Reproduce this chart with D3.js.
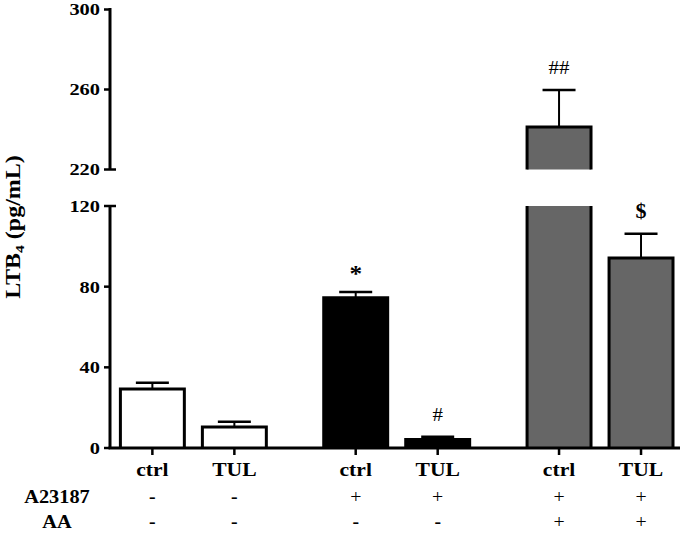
<!DOCTYPE html>
<html><head><meta charset="utf-8">
<script src="https://cdn.jsdelivr.net/npm/d3@7"></script>
<style>body{margin:0;background:#fff}svg{display:block}</style>
</head><body>
<script>
const groups = ["none", "A23187", "A23187+AA"];
const treatments = ["ctrl", "TUL"];
const categories = ["ctrl", "TUL", "ctrl", "TUL", "ctrl", "TUL"];
const means = [29.3, 10.4, 74.5, 4.2, 241.3, 94.2];
const sems = [3.1, 2.6, 2.9, 1.4, 18.4, 12.0];
const a23187Row = ["-", "-", "+", "+", "+", "+"];
const aaRow = ["-", "-", "-", "-", "+", "+"];
const sigMarks = ["", "", "*", "#", "##", "$"];
const lowerTicks = [0, 40, 80, 120];
const upperTicks = [220, 260, 300];
const lowerDomain = [0, 120];
const upperDomain = [220, 300];

const W = 680, H = 533;
const svg = d3.select("body").append("svg").attr("width", W).attr("height", H);
const serif = "'Liberation Serif','Times New Roman',serif";
const axX = 110;
const yLow = d3.scaleLinear().domain(lowerDomain).range([448, 206]);
const yUp = d3.scaleLinear().domain(upperDomain).range([169.5, 9.5]);

const x0 = d3.scaleBand().domain(groups).range([91.7, 701.7]).padding(0);
const x1 = d3.scaleBand().domain(treatments).range([0, x0.bandwidth()]).paddingInner(0.22).paddingOuter(0.35);
const data = means.map((m, i) => ({
  i, m, s: sems[i], g: groups[Math.floor(i / 2)], t: categories[i]
}));
const xL = d => x0(d.g) + x1(d.t);
const xC = d => xL(d) + x1.bandwidth() / 2;
const bw = x1.bandwidth();
const fillOf = d => d.g === "none" ? "#ffffff" : d.g === "A23187" ? "#000000" : "#666666";

function txt(g, x, y, str, o) {
  o = Object.assign({size: 17, bold: true, sx: 1.2, anchor: "middle", dy: null}, o || {});
  const t = g.append("text").attr("transform", `translate(${x},${y}) scale(${o.sx},1)`)
    .attr("text-anchor", o.anchor).attr("font-family", serif).attr("font-size", o.size)
    .attr("font-weight", o.bold ? "bold" : "normal").text(str);
  if (o.dy) t.attr("dy", o.dy);
  return t;
}

// bars
const bars = svg.append("g");
data.forEach(d => {
  const l = xL(d), r = l + bw;
  if (d.m <= lowerDomain[1]) {
    bars.append("rect").attr("x", l).attr("y", yLow(d.m)).attr("width", bw)
      .attr("height", yLow(0) - yLow(d.m)).attr("fill", fillOf(d));
    bars.append("path").attr("d", `M${l},${yLow(0)}V${yLow(d.m)}H${r}V${yLow(0)}`)
      .attr("fill", "none").attr("stroke", "#000").attr("stroke-width", 3);
  } else {
    bars.append("rect").attr("x", l).attr("y", yLow(lowerDomain[1])).attr("width", bw)
      .attr("height", yLow(0) - yLow(lowerDomain[1])).attr("fill", fillOf(d));
    bars.append("path").attr("d", `M${l},${yLow(0)}V${yLow(lowerDomain[1])}M${r},${yLow(lowerDomain[1])}V${yLow(0)}`)
      .attr("fill", "none").attr("stroke", "#000").attr("stroke-width", 3);
    bars.append("rect").attr("x", l).attr("y", yUp(d.m)).attr("width", bw)
      .attr("height", yUp(upperDomain[0]) - yUp(d.m)).attr("fill", fillOf(d));
    bars.append("path").attr("d", `M${l},${yUp(upperDomain[0])}V${yUp(d.m)}H${r}V${yUp(upperDomain[0])}`)
      .attr("fill", "none").attr("stroke", "#000").attr("stroke-width", 3);
  }
});

// error bars + significance marks
const yAny = v => v > lowerDomain[1] ? yUp(v) : yLow(v);
data.forEach(d => {
  const cx = xC(d), top = yAny(d.m + d.s), base = yAny(d.m);
  bars.append("line").attr("x1", cx).attr("x2", cx).attr("y1", base).attr("y2", top)
    .attr("stroke", "#000").attr("stroke-width", 2);
  bars.append("line").attr("x1", cx - 16.5).attr("x2", cx + 16.5).attr("y1", top).attr("y2", top)
    .attr("stroke", "#000").attr("stroke-width", 2.5);
  const mk = sigMarks[d.i];
  if (mk === "*") txt(bars, cx, top - 11, mk, {size: 23, bold: true, sx: 1.1});
  else if (mk === "$") txt(bars, cx, top - 16, mk, {size: 20, bold: true, sx: 1.1});
  else if (mk) txt(bars, cx, top - 16, mk, {size: 19, bold: false, sx: 1.1});
});

// y axes
const axG = svg.append("g");
axG.append("line").attr("x1", axX).attr("x2", axX).attr("y1", yUp(300) - 1.5).attr("y2", yUp(220))
  .attr("stroke", "#000").attr("stroke-width", 3);
axG.append("line").attr("x1", axX).attr("x2", axX).attr("y1", yLow(120)).attr("y2", yLow(0))
  .attr("stroke", "#000").attr("stroke-width", 3);
const tickLab = (y, v, breakTick) => {
  axG.append("line").attr("x1", axX - 6).attr("x2", breakTick ? axX + 6 : axX).attr("y1", y).attr("y2", y)
    .attr("stroke", "#000").attr("stroke-width", 2.5);
  txt(axG, axX - 10, y, v, {anchor: "end", size: 17, dy: "0.35em"});
};
upperTicks.forEach(v => tickLab(yUp(v), v, v === upperDomain[0]));
lowerTicks.forEach(v => tickLab(yLow(v), v, v === lowerDomain[1]));

// x axis
svg.append("line").attr("x1", axX - 1.5).attr("x2", W).attr("y1", yLow(0)).attr("y2", yLow(0))
  .attr("stroke", "#000").attr("stroke-width", 3);
data.forEach(d => {
  svg.append("line").attr("x1", xC(d)).attr("x2", xC(d)).attr("y1", yLow(0)).attr("y2", yLow(0) + 7)
    .attr("stroke", "#000").attr("stroke-width", 2.5);
  txt(svg, xC(d), 476, d.t, {size: 18});
  txt(svg, xC(d), 503, a23187Row[d.i], {size: 18, bold: a23187Row[d.i] === "-", sx: 1.1});
  txt(svg, xC(d), 528, aaRow[d.i], {size: 18, bold: aaRow[d.i] === "-", sx: 1.1});
});
txt(svg, 57, 503, "A23187", {size: 18, sx: 1.13});
txt(svg, 57, 528, "AA", {size: 18, sx: 1.13});

// y label
const yl = svg.append("text").attr("transform", "translate(20,227) rotate(-90) scale(1.2,1)")
  .attr("text-anchor", "middle").attr("font-family", serif).attr("font-size", 20).attr("font-weight", "bold");
yl.append("tspan").text("LTB");
yl.append("tspan").attr("font-size", 13).attr("dy", 4).text("4");
yl.append("tspan").attr("dy", -4).text(" (pg/mL)");
</script>
</body></html>
